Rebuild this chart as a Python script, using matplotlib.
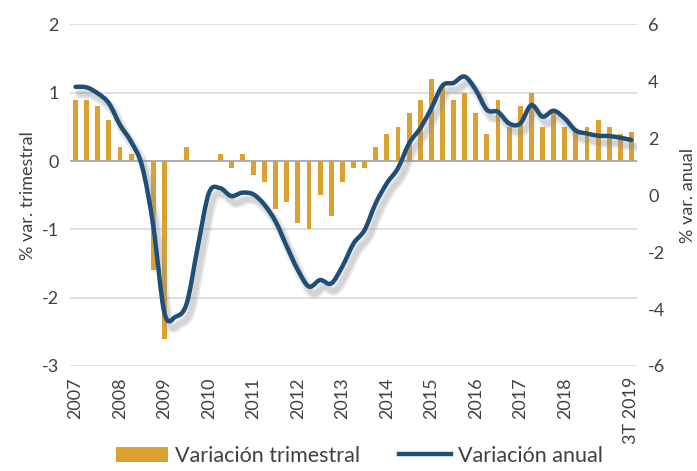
import matplotlib
matplotlib.use("Agg")
import matplotlib.pyplot as plt
import matplotlib.patheffects as pe
from matplotlib.path import Path
from matplotlib.patches import PathPatch
from matplotlib.lines import Line2D
import numpy as np

plt.rcParams['font.family'] = ['Lato', 'DejaVu Sans']
plt.rcParams['axes.unicode_minus'] = False

# Quarterly data 2007Q1 .. 2019Q3
trimestral = [0.9, 0.9, 0.8, 0.6, 0.2, 0.1, 0.0, -1.6, -2.6, 0.0,
              0.2, 0.0, 0.0, 0.1, -0.1, 0.1, -0.2, -0.3, -0.7, -0.6,
              -0.9, -1.0, -0.5, -0.8, -0.3, -0.1, -0.1, 0.2, 0.4, 0.5,
              0.7, 0.9, 1.2, 1.1, 0.9, 1.0, 0.7, 0.4, 0.9, 0.5,
              0.8, 1.0, 0.5, 0.7, 0.5, 0.45, 0.5, 0.6, 0.5, 0.4, 0.43]
anual = [3.81, 3.79, 3.58, 3.23, 2.47, 1.88, 1.0, -1.1, -4.14, -4.27,
         -3.8, -1.8, 0.08, 0.25, -0.03, 0.09, 0.03, -0.34, -0.93, -1.8,
         -2.63, -3.21, -2.98, -3.1, -2.5, -1.7, -1.22, -0.28, 0.42, 0.95,
         1.82, 2.35, 3.05, 3.85, 3.95, 4.17, 3.7, 3.0, 2.93, 2.52,
         2.52, 3.17, 2.76, 2.97, 2.7, 2.27, 2.17, 2.09, 2.08, 2.02, 1.94]
tick_idx = [0, 4, 8, 12, 16, 20, 24, 28, 32, 36, 40, 44, 50]
tick_labels = ['2007', '2008', '2009', '2010', '2011', '2012', '2013',
               '2014', '2015', '2016', '2017', '2018', '3T 2019']

gold = '#DAA131'
blue = '#1F4E79'
txt = '#404040'

fig = plt.figure(figsize=(6.97, 4.71), dpi=100)
ax = fig.add_axes([0.1004, 0.223, 0.8135, 0.725])
x = np.arange(len(trimestral))

ax.bar(x, trimestral, width=0.44, color=gold, zorder=2, label='Variación trimestral')
ax.set_xlim(-0.5, len(trimestral) - 0.5)
ax.set_ylim(-3, 2)
ax.set_yticks([-3, -2, -1, 0, 1, 2])
ax.yaxis.grid(True, color='#D9D9D9', linewidth=1.2, zorder=0)
ax.axhline(0, color='#A6A6A6', linewidth=1.2, zorder=3)
ax.set_axisbelow(True)
for s in ax.spines.values():
    s.set_visible(False)
ax.tick_params(axis='both', length=0, labelsize=13, colors=txt, pad=8)
ax.set_xticks(tick_idx)
ax.set_xticklabels(tick_labels, rotation=90, va='top')
ax.set_ylabel('% var. trimestral', fontsize=13, color=txt, labelpad=4)

ax2 = ax.twinx()
ax2.set_ylim(-6, 6)
ax2.set_yticks([-6, -4, -2, 0, 2, 4, 6])
for s in ax2.spines.values():
    s.set_visible(False)
ax2.tick_params(axis='both', length=0, labelsize=13, colors=txt, pad=8)

# smoothed line (Catmull-Rom rendered as cubic Bezier segments, like Excel's smoothed line)
pts = np.column_stack([x, anual]).astype(float)
n = len(pts)
verts = [pts[0]]
codes = [Path.MOVETO]
for i in range(n - 1):
    p0 = pts[max(i - 1, 0)]
    p1 = pts[i]
    p2 = pts[i + 1]
    p3 = pts[min(i + 2, n - 1)]
    c1 = p1 + (p2 - p0) / 6.0
    c2 = p2 - (p3 - p1) / 6.0
    verts += [c1, c2, p2]
    codes += [Path.CURVE4] * 3
line_patch = PathPatch(Path(verts, codes), fill=False, edgecolor=blue, linewidth=3.2,
                       capstyle='round', joinstyle='round', zorder=5,
                       path_effects=[pe.SimpleLineShadow(offset=(3, -5), shadow_color='#999999',
                                                         alpha=0.22, linewidth=7),
                                     pe.SimpleLineShadow(offset=(3, -5), shadow_color='#888888',
                                                         alpha=0.2, linewidth=4),
                                     pe.Normal()])
ax2.add_patch(line_patch)
ax2.set_ylabel('% var. anual', fontsize=13, color=txt, rotation=90)
ax2.yaxis.set_label_coords(1.076, 0.5)

h1, l1 = ax.get_legend_handles_labels()
h2 = [Line2D([0], [0], color=blue, linewidth=3.2)]
l2 = ['Variación anual']
leg = fig.legend(h1 + h2, l1 + l2, loc='lower center', ncol=2, frameon=False,
                 bbox_to_anchor=(0.516, -0.03), fontsize=15.5, handlelength=2.4,
                 handletextpad=0.35, columnspacing=1.8)
for t in leg.get_texts():
    t.set_color(txt)

fig.savefig('out.png', dpi=100)
